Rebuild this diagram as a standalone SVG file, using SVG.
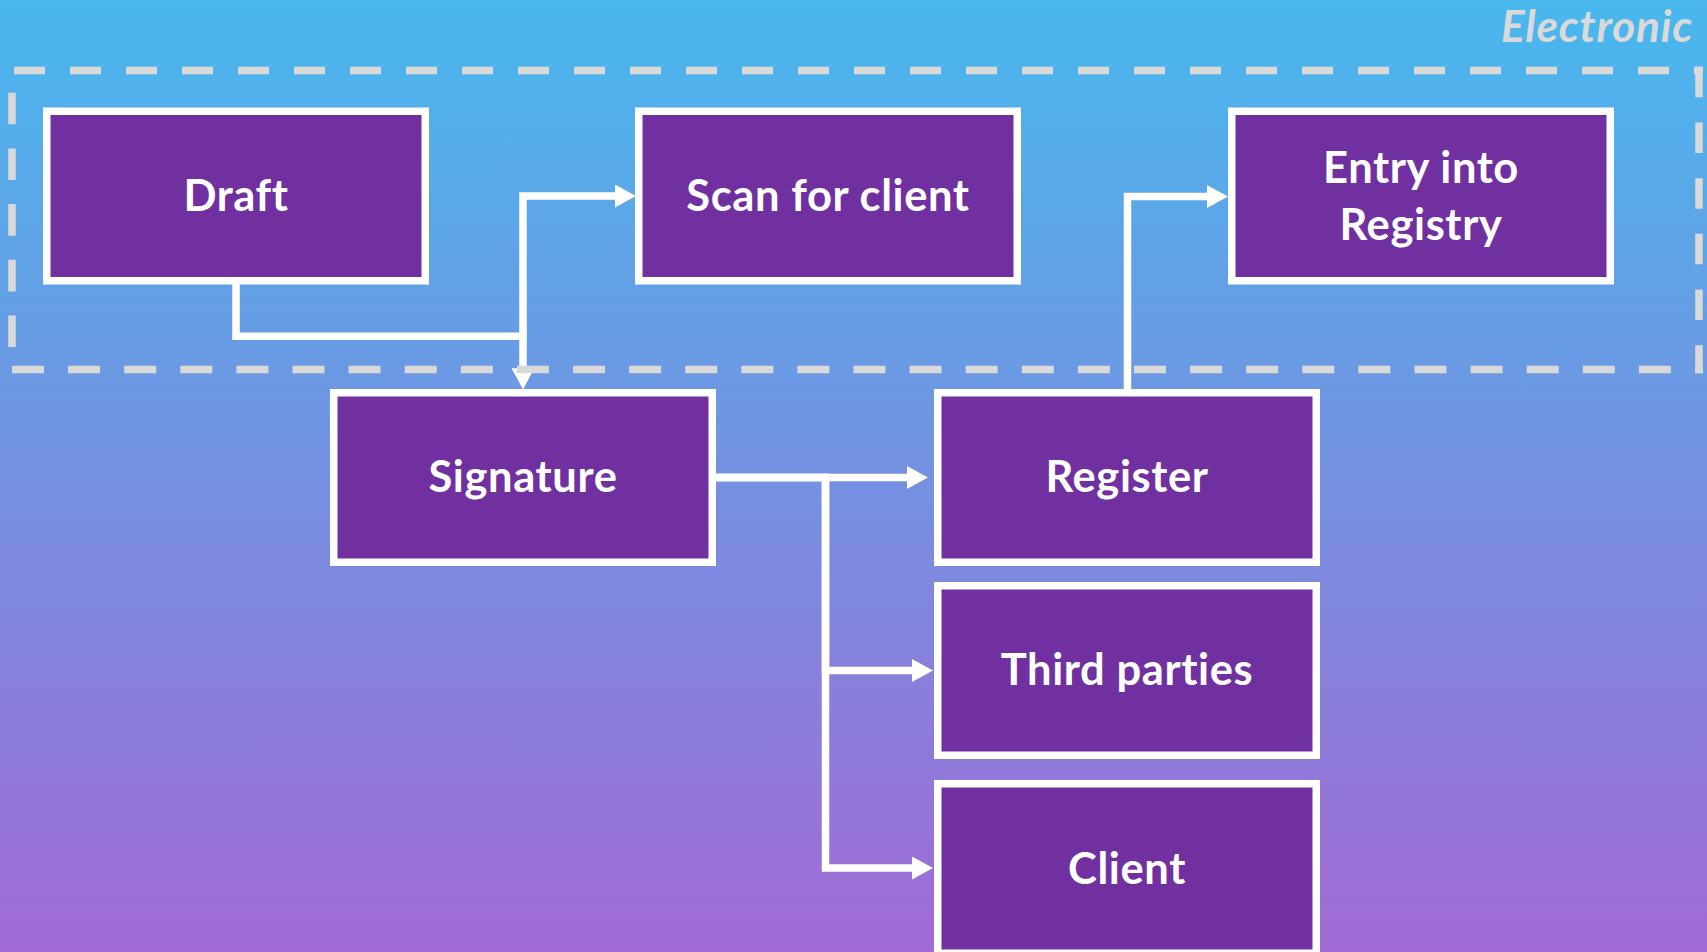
<svg xmlns="http://www.w3.org/2000/svg" width="1707" height="952" viewBox="0 0 1707 952">
  <defs>
    <linearGradient id="bg" x1="0" y1="0" x2="0" y2="1">
      <stop offset="0" stop-color="#48B8EE"/>
      <stop offset="1" stop-color="#A16AD4"/>
    </linearGradient>
    <marker id="arrow" viewBox="0 0 21 23" markerWidth="21" markerHeight="23" refX="0" refY="11.5" markerUnits="userSpaceOnUse" orient="auto">
      <path d="M0,0 L21,11.5 L0,23 Z" fill="#FFFFFF"/>
    </marker>
  </defs>
  <style>
    .box { fill: #7030A0; stroke: #FFFFFF; stroke-width: 7.5; }
    .label { font-family: Lato, "Open Sans", sans-serif; font-weight: 700; font-size: 43.5px; letter-spacing: 0.6px; fill: #FFFFFF; text-anchor: middle; }
    .edge { fill: none; stroke: #FFFFFF; stroke-width: 7.5; stroke-linejoin: miter; marker-end: url(#arrow); }
    .dash { fill: none; stroke: #D9D9D9; stroke-width: 7.5; }
    .title { font-family: Lato, "Open Sans", sans-serif; font-weight: 700; font-style: italic; font-size: 44px; letter-spacing: 0.8px; fill: #D9D9D9; text-anchor: end; }
  </style>
  <rect x="0" y="0" width="1707" height="952" fill="url(#bg)"/>
  <text class="title" x="1693" y="42">Electronic</text>

  <g id="connectors">
    <path class="edge" d="M236,284 V336.3 H523 V368.3"/>
    <path class="edge" d="M523,336.3 V196 H615"/>
    <path class="edge" d="M1127.5,389 V196.5 H1207"/>
    <path class="edge" d="M716,477.5 H907"/>
    <path class="edge" d="M716,477.5 H825.5 V670.5 H912"/>
    <path class="edge" d="M716,477.5 H825.5 V868 H912"/>
  </g>

  <g id="electronic-boundary">
    <path class="dash" d="M14,70.5 H1703" stroke-dasharray="31 25"/>
    <path class="dash" d="M1699,66.75 V373.25" stroke-dasharray="30.5 25.2"/>
    <path class="dash" d="M12,369.5 H1703" stroke-dasharray="32 24.1"/>
    <path class="dash" d="M12,92.7 V348.3" stroke-dasharray="31.6 24.1"/>
  </g>

  <g id="node-draft">
    <rect class="box" x="46.75" y="111.25" width="378.5" height="169.5"/>
    <text class="label" x="236" y="211">Draft</text>
  </g>
  <g id="node-scan">
    <rect class="box" x="638.75" y="111.25" width="378.5" height="169.5"/>
    <text class="label" x="828" y="211">Scan for client</text>
  </g>
  <g id="node-entry">
    <rect class="box" x="1231.75" y="111.25" width="378.5" height="169.5"/>
    <text class="label" x="1421" y="183">Entry into</text>
    <text class="label" x="1421" y="240">Registry</text>
  </g>
  <g id="node-signature">
    <rect class="box" x="333.75" y="392.75" width="378.5" height="169.5"/>
    <text class="label" x="523" y="492">Signature</text>
  </g>
  <g id="node-register">
    <rect class="box" x="937.75" y="392.75" width="378.5" height="169.5"/>
    <text class="label" x="1127" y="492">Register</text>
  </g>
  <g id="node-third">
    <rect class="box" x="937.75" y="585.75" width="378.5" height="169.5"/>
    <text class="label" x="1127" y="685">Third parties</text>
  </g>
  <g id="node-client">
    <rect class="box" x="937.75" y="783.75" width="378.5" height="169.5"/>
    <text class="label" x="1127" y="884">Client</text>
  </g>
</svg>
